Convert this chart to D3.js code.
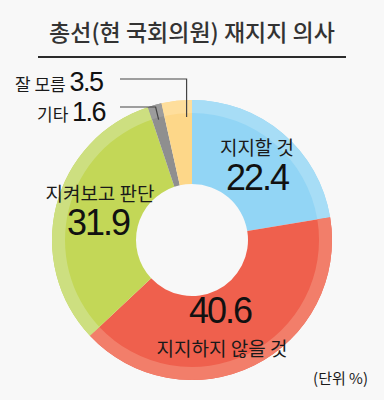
<!DOCTYPE html>
<html>
<head>
<meta charset="utf-8">
<script src="https://cdn.jsdelivr.net/npm/d3@7"></script>
<style>
	body { margin: 0; background: #f8f8f8; }
	svg { display: block; }
	.kr { font-family: "Noto Sans CJK KR", "Noto Sans", sans-serif; fill: #1a1a1a; }
	.num { font-family: "Liberation Sans Narrow", "Liberation Sans", Arial, sans-serif; fill: #111; }
</style>
</head>
<body>
<svg id="chart"></svg>
<script>
// Data
const categories = ["지지할 것", "지지하지 않을 것", "지켜보고 판단", "기타", "잘 모름"];
const values = [22.4, 40.6, 31.9, 1.6, 3.5];
const colors = ["#92d5f5", "#ef604d", "#c3d757", "#8f8f8f", "#fdd789"];
const rimColors = ["#a7ddf6", "#f27e6a", "#cddf80", "#9c9c9c", "#fede9c"];
const titleText = "총선(현 국회의원) 재지지 의사";
const unitText = "(단위 %)";

const WIDTH = 384, HEIGHT = 400;
const CX = 192, CY = 240;
const R_OUT = 140, R_IN = 56, R_RIM = 127;

const svg = d3.select("#chart").attr("width", WIDTH).attr("height", HEIGHT);

svg.append("rect").attr("width", WIDTH).attr("height", HEIGHT).attr("fill", "#f8f8f8");

// Title
svg.append("text")
	.attr("class", "kr")
	.attr("x", WIDTH / 2).attr("y", 41)
	.attr("text-anchor", "middle")
	.style("font-size", "23px")
	.style("font-weight", "500")
	.style("fill", "#333")
	.text(titleText);

svg.append("line")
	.attr("x1", 38).attr("x2", 346)
	.attr("y1", 57).attr("y2", 57)
	.attr("stroke", "#2b2b2b")
	.attr("stroke-width", 2);

const data = categories.map((c, i) => ({name: c, value: values[i], i: i}));

const pie = d3.pie().sort(null).value(d => d.value).startAngle(0).endAngle(2 * Math.PI);
const arcs = pie(data);

const arcMain = d3.arc().innerRadius(R_IN).outerRadius(R_OUT);
const arcRim = d3.arc().innerRadius(R_RIM).outerRadius(R_OUT);

const g = svg.append("g").attr("transform", `translate(${CX}, ${CY})`);

g.selectAll(".slice")
	.data(arcs)
	.enter()
	.append("path")
	.attr("class", "slice")
	.attr("fill", d => colors[d.data.i])
	.attr("d", arcMain);

g.selectAll(".rim")
	.data(arcs)
	.enter()
	.append("path")
	.attr("class", "rim")
	.attr("fill", d => rimColors[d.data.i])
	.attr("d", arcRim);

// point on the ring for a given angle / radius, in svg coords
function ringPoint(angle, r) {
	return [CX + r * Math.sin(angle), CY - r * Math.cos(angle)];
}

// Inside labels (name + value)
const inside = [
	{i: 0, nameX: 257, nameY: 155, numX: 257, numY: 190},
	{i: 1, nameX: 222, nameY: 356, numX: 220, numY: 323},
	{i: 2, nameX: 100, nameY: 201, numX: 98, numY: 235}
];

inside.forEach(lab => {
	svg.append("text")
		.attr("class", "kr")
		.attr("x", lab.nameX).attr("y", lab.nameY)
		.attr("text-anchor", "middle")
		.style("font-size", "19px")
		.text(categories[lab.i]);
	svg.append("text")
		.attr("class", "num")
		.attr("x", lab.numX).attr("y", lab.numY)
		.attr("text-anchor", "middle")
		.style("font-size", "36px")
		.style("letter-spacing", "-2px")
		.text(values[lab.i].toFixed(1));
});

// Outside labels with leader lines (small slices)
const outside = [
	{i: 4, textX: 15, baseY: 91, lineY: 79, r: 123, frac: 0.8, drop: "vertical"},
	{i: 3, textX: 37, baseY: 121, lineY: 107, r: 125, frac: 0.5, drop: "diagonal"}
];

outside.forEach(lab => {
	const a = arcs[lab.i];
	const ang = a.startAngle + (a.endAngle - a.startAngle) * lab.frac;
	const end = ringPoint(ang, lab.r);
	let pts;
	if (lab.drop === "vertical") {
		pts = [[120, lab.lineY], [end[0], lab.lineY], end];
	} else {
		pts = [[120, lab.lineY], [end[0] - 3, lab.lineY], end];
	}
	svg.append("path")
		.attr("d", d3.line()(pts))
		.attr("fill", "none")
		.attr("stroke", "#444")
		.attr("stroke-width", 1.2);

	const t = svg.append("text")
		.attr("x", lab.textX).attr("y", lab.baseY);
	t.append("tspan")
		.attr("class", "kr")
		.style("font-size", "17px")
		.text(categories[lab.i] + " ");
	t.append("tspan")
		.attr("class", "num")
		.style("font-size", "27px")
		.style("letter-spacing", "-1.5px")
		.text(values[lab.i].toFixed(1));
});

// Unit
svg.append("text")
	.attr("class", "kr")
	.attr("x", 368).attr("y", 384)
	.attr("text-anchor", "end")
	.style("font-size", "15px")
	.text(unitText);
</script>
</body>
</html>
